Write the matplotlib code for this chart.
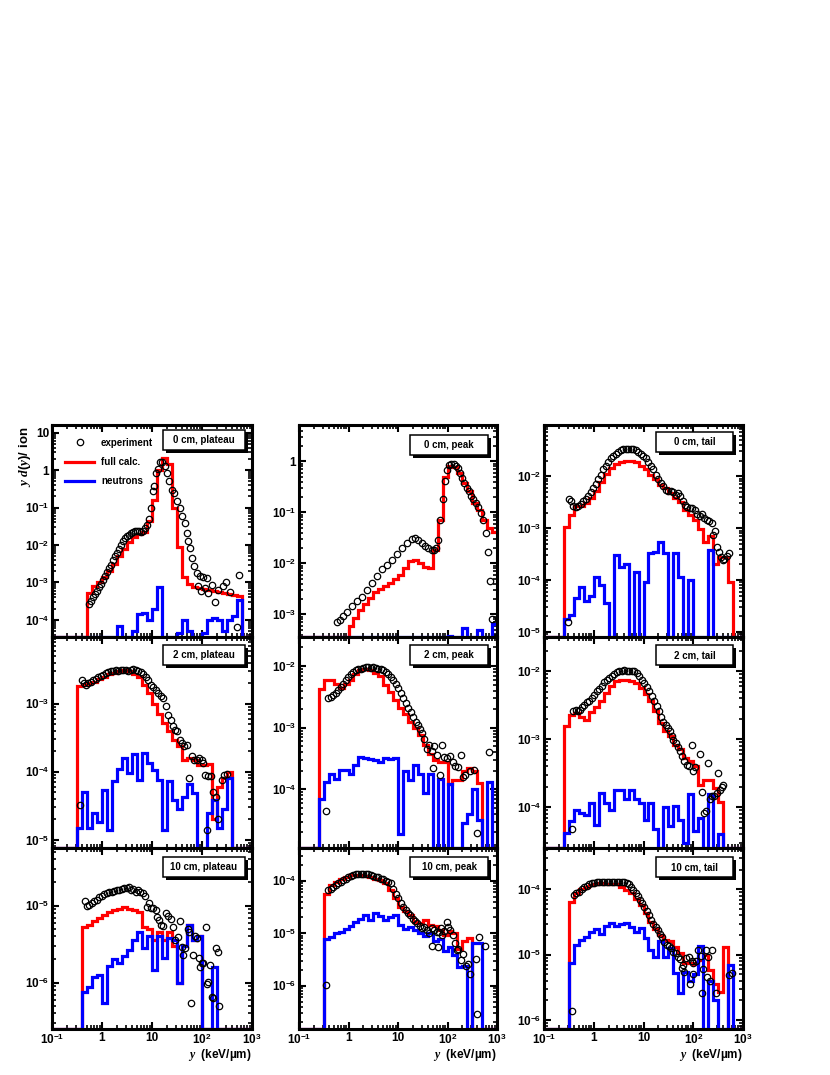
import numpy as np
import matplotlib
matplotlib.use("Agg")
import matplotlib.pyplot as plt
from matplotlib.ticker import LogLocator, FuncFormatter, NullFormatter
from matplotlib.lines import Line2D
from matplotlib.patches import Rectangle

plt.rcParams['font.family'] = ['Liberation Sans', 'DejaVu Sans']
plt.rcParams['font.weight'] = 'bold'
plt.rcParams['mathtext.fontset'] = 'custom'
plt.rcParams['mathtext.rm'] = 'Liberation Sans:bold'
plt.rcParams['mathtext.it'] = 'Liberation Serif:italic'
plt.rcParams['mathtext.bf'] = 'Liberation Sans:bold'
plt.rcParams['mathtext.sf'] = 'Liberation Sans:bold'

# ---------------- data ----------------
# histogram bins: 10 per decade from 0.1 to 1000 keV/um
BIN_EDGES = np.logspace(-1, 3, 41)

PANEL_LABELS = ["0 cm, plateau", "0 cm, peak", "0 cm, tail",
                "2 cm, plateau", "2 cm, peak", "2 cm, tail",
                "10 cm, plateau", "10 cm, peak", "10 cm, tail"]

Y_LIMITS = [(3.5e-5, 16), (3.6e-4, 5.2), (8e-6, 0.097),
            (7.6e-6, 9.5e-3), (1.12e-5, 0.0296), (2.5e-5, 0.032),
            (2.5e-7, 5.6e-5), (1.5e-7, 4.2e-4), (7.3e-7, 4.3e-4)]

# full calculation (red), first non-empty bin index + bin values
red_start = [7, 9, 4, 5, 4, 4, 6, 5, 5]
red_0cm_plateau = [5.1e-4, 8e-4, 1.0e-3, 1.4e-3, 2.0e-3, 3.2e-3, 5e-3, 8e-3, 1.2e-2, 1.6e-2,
                   2.0e-2, 2.2e-2, 4.5e-2, 0.16, 1.0, 2.1, 1.5, 0.1, 9e-3, 1.4e-3,
                   9e-4, 7.5e-4, 7e-4, 6.5e-4, 6.3e-4, 6e-4, 5.5e-4, 5.2e-4, 5e-4, 4.6e-4, 4.3e-4]
red_0cm_peak = [3.5e-4, 6e-4, 8.5e-4, 1.2e-3, 1.6e-3, 2.1e-3, 2.7e-3, 3.2e-3, 3.6e-3, 4.2e-3,
                5e-3, 6e-3, 8e-3, 1.1e-2, 1.15e-2, 1.0e-2, 8.5e-3, 8e-3, 1.8e-2, 7e-2,
                0.5, 0.8, 0.78, 0.59, 0.38, 0.26, 0.15, 0.11, 0.072, 0.05, 0.042]
red_0cm_tail = [1.07e-3, 1.8e-3, 2.7e-3, 2.7e-3, 3.0e-3, 3.8e-3, 5.1e-3, 7.6e-3, 1.1e-2, 1.45e-2,
                1.7e-2, 1.9e-2, 2.0e-2, 2.0e-2, 1.9e-2, 1.6e-2, 1.4e-2, 1.07e-2, 8.7e-3, 6.9e-3,
                5.9e-3, 4.8e-3, 3.8e-3, 3.2e-3, 2.25e-3, 1.8e-3, 1.45e-3, 9.5e-4, 5.5e-4, 7e-4,
                2e-4, 2.8e-4, 2.8e-4, 9e-5]
red_2cm_plateau = [1.8e-3, 1.9e-3, 2.0e-3, 2.1e-3, 2.3e-3, 2.5e-3, 2.7e-3, 2.85e-3, 3.0e-3, 3.1e-3,
                   3.0e-3, 2.7e-3, 2.5e-3, 1.9e-3, 1.45e-3, 1.0e-3, 7e-4, 5.2e-4, 3.9e-4, 2.95e-4,
                   2.35e-4, 1.5e-4, 1.6e-4, 1.5e-4, 1.26e-4, 1.26e-4, 1.3e-4, 2e-5, 6e-5, 8e-5, 1.0e-4]
red_2cm_peak = [4.3e-3, 5.9e-3, 5.9e-3, 5.2e-3, 4.4e-3, 5.2e-3, 6.0e-3, 7.5e-3, 8.7e-3, 9.0e-3,
                8.7e-3, 7.7e-3, 6.9e-3, 4.9e-3, 3.8e-3, 2.8e-3, 2.05e-3, 1.7e-3, 1.26e-3, 9.8e-4,
                7.6e-4, 5.2e-4, 3.8e-4, 3.0e-4, 2.8e-4, 2.8e-4, 1.2e-4, 1.4e-4, 1.4e-4, 2.0e-4,
                2.2e-4, 2.0e-4, 1.26e-4]
red_2cm_tail = [1.55e-3, 2.3e-3, 2.45e-3, 2.1e-3, 1.9e-3, 2.5e-3, 3.0e-3, 3.7e-3, 4.8e-3, 6.0e-3,
                7.1e-3, 7.5e-3, 7.5e-3, 7.1e-3, 6.8e-3, 5.6e-3, 4.6e-3, 3.6e-3, 2.6e-3, 1.75e-3,
                1.3e-3, 1.1e-3, 8.3e-4, 7.1e-4, 5.2e-4, 4.7e-4, 4.0e-4, 2.1e-4, 2.5e-4, 2.5e-4,
                1.9e-4, 1.2e-4]
red_10cm_plateau = [5.3e-6, 5.6e-6, 6.3e-6, 6.9e-6, 7.6e-6, 8.3e-6, 8.7e-6, 9.1e-6, 9.7e-6, 9.1e-6,
                    8.7e-6, 8.3e-6, 5.3e-6, 5.0e-6, 3.6e-6, 4.6e-6, 3.6e-6, 4.6e-6, 3.0e-6,
                    1.0e-6, 3.0e-6, 5.6e-6, 3.6e-6, 4.0e-6]
red_10cm_peak = [5.7e-5, 8.3e-5, 9.5e-5, 1.1e-4, 1.2e-4, 1.28e-4, 1.3e-4, 1.28e-4, 1.25e-4, 1.2e-4,
                 1.1e-4, 1.02e-4, 8.9e-5, 6.6e-5, 4.6e-5, 3.2e-5, 2.6e-5, 2.2e-5, 1.66e-5, 1.55e-5,
                 1.8e-5, 1.45e-5, 1.4e-5, 1.15e-5, 9.3e-6, 1.1e-5, 1.0e-5, 5e-6, 7e-6, 8e-6]
red_10cm_tail = [6.5e-5, 8.7e-5, 1.0e-4, 1.1e-4, 1.15e-4, 1.23e-4, 1.26e-4, 1.23e-4, 1.23e-4, 1.2e-4,
                 1.1e-4, 9.8e-5, 8.9e-5, 7.2e-5, 5.8e-5, 4.3e-5, 3.2e-5, 2.5e-5, 2.0e-5, 1.67e-5,
                 1.6e-5, 1.3e-5, 1.05e-5, 7.4e-6, 7.4e-6, 7.1e-6, 8.3e-6, 1.0e-5, 5.9e-6, 3.6e-6,
                 2.7e-6, 1.3e-5]

# neutrons (blue), first bin index + bin values (0 = empty bin)
blue_start = [13, 30, 4, 5, 4, 4, 6, 5, 5]
blue_0cm_plateau = [7e-5, 0, 0, 5e-5, 1.4e-4, 1.5e-4, 1.0e-4, 2.0e-4, 7.5e-4, 0,
                    0, 0, 4.5e-5, 1.0e-4, 5e-5, 0, 0, 4.5e-5, 1.0e-4, 1.1e-4,
                    1.0e-4, 5e-5, 1.0e-4, 1.3e-4, 3.5e-4]
blue_0cm_peak = [3.8e-4, 0, 0, 5.5e-4, 0, 0, 5e-4, 0, 0, 6.5e-4]
blue_0cm_tail = [1.8e-5, 2.1e-5, 4.5e-5, 7.4e-5, 4.0e-5, 5.0e-5, 1.15e-4, 8e-5, 3.6e-5, 0,
                 3.0e-4, 1.8e-4, 2.0e-4, 0, 1.4e-4, 0, 9e-5, 3.3e-4, 3.5e-4, 5.3e-4,
                 3.3e-4, 0, 3.3e-4, 1.15e-4, 0, 1.0e-4, 0, 0, 0, 3.8e-4]
blue_2cm_plateau = [1.5e-5, 5.1e-5, 1.5e-5, 2.5e-5, 1.8e-5, 5.4e-5, 1.4e-5, 7.2e-5, 1.1e-4, 1.6e-4,
                    9.6e-5, 1.8e-4, 7.6e-5, 1.9e-4, 1.35e-4, 1.07e-4, 7.6e-5, 1.4e-5, 7.2e-5, 3.9e-5,
                    2.8e-5, 4.3e-5, 6.5e-5, 4.9e-5, 0, 0, 2.5e-5, 3.9e-5, 1.5e-5, 2.8e-5, 8e-5]
blue_2cm_peak = [7e-5, 1.3e-4, 1.8e-4, 1.45e-4, 2.05e-4, 2.1e-4, 1.8e-4, 2.5e-4, 3.4e-4, 3.2e-4,
                 3.1e-4, 3.0e-4, 2.8e-4, 3.2e-4, 3.1e-4, 3.2e-4, 1.9e-5, 2.0e-4, 1.4e-4, 2.5e-4,
                 1.8e-4, 8.7e-5, 1.8e-4, 0, 1.5e-4, 0, 1.2e-4, 0, 0, 2.8e-5,
                 4e-5, 1.0e-4, 3.2e-5, 0, 1.3e-4]
blue_2cm_tail = [4.2e-5, 6.2e-5, 9.1e-5, 8.3e-5, 7.7e-5, 1.15e-4, 5.5e-5, 1.6e-4, 1.15e-4, 9e-5,
                 1.8e-4, 1.8e-4, 1.3e-4, 1.8e-4, 1.3e-4, 1.15e-4, 6.5e-5, 1.15e-4, 4.8e-5, 0,
                 1.0e-4, 5.2e-5, 1.05e-4, 6.5e-5, 3e-5, 1.55e-4, 4.5e-5, 7e-5, 0, 1.55e-4,
                 0, 4e-5]
blue_10cm_plateau = [7.6e-7, 8.9e-7, 1.2e-6, 1.25e-6, 5.4e-7, 1.65e-6, 2.0e-6, 1.8e-6, 2.2e-6, 2.65e-6,
                     3.6e-6, 4.6e-6, 2.8e-6, 4.0e-6, 1.45e-6, 4.0e-6, 2.1e-6, 3.8e-6, 3.6e-6, 1.0e-6,
                     3.0e-6, 5.6e-6, 3.6e-6, 4.0e-6, 0, 0, 1.6e-6]
blue_10cm_peak = [7.9e-6, 8.3e-6, 1.0e-5, 1.05e-5, 1.23e-5, 1.4e-5, 1.65e-5, 1.9e-5, 2.2e-5, 1.8e-5,
                  2.4e-5, 2.1e-5, 1.8e-5, 2.0e-5, 2.2e-5, 1.45e-5, 1.23e-5, 1.3e-5, 1.15e-5, 1.0e-5,
                  8.9e-6, 1.0e-5, 7.2e-6, 7.7e-6, 4.5e-6, 5.5e-6, 3.8e-6, 2.3e-6, 2.4e-6, 0,
                  6.4e-6, 6.4e-6]
blue_10cm_tail = [7.4e-6, 1.4e-5, 1.67e-5, 1.9e-5, 2.25e-5, 2.5e-5, 2.1e-5, 2.8e-5, 3.1e-5, 2.8e-5,
                  2.95e-5, 3.1e-5, 2.7e-5, 2.2e-5, 2.6e-5, 1.8e-5, 1.17e-5, 9.3e-6, 1.6e-5, 9.3e-6,
                  1.25e-5, 5.2e-6, 2.6e-6, 5.5e-6, 4.0e-6, 5.0e-6, 1.35e-5, 0, 4.0e-6, 2.0e-6,
                  0, 0, 6.9e-6]

# experiment (open circles)
exp_x_0cm_plateau = [0.56, 0.61, 0.67, 0.74, 0.81, 0.885, 0.97, 1.06, 1.17, 1.28,
                     1.40, 1.54, 1.69, 1.85, 2.03, 2.22, 2.44, 2.67, 2.93, 3.21,
                     3.52, 3.86, 4.24, 4.64, 5.09, 5.58, 6.12, 6.71, 7.36, 8.07,
                     8.7, 9.4, 10.3, 11.1, 12.0, 13.0, 14.5, 16.1, 18.2, 20.3,
                     22.2, 24.7, 27.5, 31.1, 36.3, 39.2, 45.7, 49.3, 53.3, 57.5,
                     62.1, 70.3, 78.2, 91.2, 106, 124, 84.5, 95.5, 115, 134,
                     156, 182, 212, 259, 302, 363, 509, 558]
exp_y_0cm_plateau = [2.7e-4, 3.2e-4, 4.0e-4, 4.8e-4, 5.9e-4, 7.4e-4, 9.1e-4, 1.15e-3, 1.5e-3, 1.9e-3,
                     2.4e-3, 3.0e-3, 4.0e-3, 5.0e-3, 6.3e-3, 7.9e-3, 1.0e-2, 1.26e-2, 1.5e-2, 1.7e-2,
                     1.9e-2, 2.1e-2, 2.2e-2, 2.3e-2, 2.35e-2, 2.3e-2, 2.2e-2, 2.3e-2, 2.8e-2, 3.5e-2,
                     4.8e-2, 0.1, 0.28, 0.37, 0.85, 1.1, 1.6, 1.6, 1.26, 0.85,
                     0.51, 0.30, 0.25, 0.15, 0.1, 0.059, 0.039, 0.021, 0.0126, 8.3e-3,
                     4.5e-3, 2.7e-3, 1.8e-3, 1.45e-3, 1.4e-3, 1.3e-3, 8.2e-4, 5.8e-4, 7e-4, 5.1e-4,
                     8.7e-4, 3.1e-4, 6.3e-4, 7.9e-4, 1e-3, 5.4e-4, 6.6e-5, 1.6e-3]
exp_x_0cm_peak = [0.58, 0.67, 0.79, 0.92, 1.16, 1.46, 1.85, 2.33, 2.94, 3.71,
                  4.68, 5.9, 7.45, 9.4, 11.9, 15.0, 18.9, 22.0, 25.8, 30.1,
                  35.1, 41.0, 47.9, 53.3, 58.6, 65.3, 71.6, 79.8, 87.7, 96.2,
                  107, 119, 133, 149, 166, 182, 200, 219, 244, 268,
                  299, 333, 371, 420, 475, 530, 590, 658, 711, 793]
exp_y_0cm_peak = [7.2e-4, 7.9e-4, 9.3e-4, 1.1e-3, 1.45e-3, 1.8e-3, 2.2e-3, 3.0e-3, 4.1e-3, 5.6e-3,
                  7.6e-3, 9.3e-3, 1.17e-2, 1.5e-2, 2.0e-2, 2.5e-2, 3.0e-2, 3.2e-2, 2.9e-2, 2.5e-2,
                  2.2e-2, 2.0e-2, 1.86e-2, 1.8e-2, 2.0e-2, 2.9e-2, 7.2e-2, 0.18, 0.41, 0.69,
                  0.85, 0.89, 0.89, 0.83, 0.74, 0.59, 0.47, 0.38, 0.30, 0.26,
                  0.21, 0.18, 0.15, 0.126, 0.098, 0.072, 0.039, 0.017, 4.5e-3, 8e-4]
exp_x_0cm_tail = [0.30, 0.32, 0.35, 0.39, 0.43, 0.49, 0.55, 0.62, 0.69, 0.78,
                  0.87, 0.98, 1.09, 1.24, 1.38, 1.56, 1.76, 1.96, 2.22, 2.48,
                  2.80, 3.12, 3.53, 3.94, 4.45, 4.96, 5.61, 6.25, 7.07, 7.87,
                  8.91, 9.93, 11.2, 12.5, 14.2, 15.8, 17.8, 19.9, 22.5, 25.1,
                  28.3, 31.6, 35.7, 39.8, 45.0, 50.1, 54.2, 61.3, 68.3, 76.0,
                  86.1, 95.9, 108, 121, 137, 152, 167, 186, 211, 234,
                  253, 274, 296, 329, 356, 390, 421, 470, 524]
exp_y_0cm_tail = [1.55e-5, 3.6e-3, 3.4e-3, 2.7e-3, 2.55e-3, 2.7e-3, 2.95e-3, 3.3e-3, 3.6e-3, 4.2e-3,
                  4.9e-3, 5.9e-3, 7.1e-3, 8.7e-3, 1.07e-2, 1.35e-2, 1.6e-2, 1.86e-2, 2.2e-2, 2.45e-2,
                  2.7e-2, 2.95e-2, 3.15e-2, 3.3e-2, 3.4e-2, 3.4e-2, 3.4e-2, 3.3e-2, 3.15e-2, 2.9e-2,
                  2.7e-2, 2.45e-2, 2.2e-2, 1.86e-2, 1.56e-2, 1.35e-2, 1.07e-2, 8.9e-3, 7.4e-3, 6.4e-3,
                  5.5e-3, 5.1e-3, 5.1e-3, 4.9e-3, 4.4e-3, 4.8e-3, 4.2e-3, 3.3e-3, 2.8e-3, 2.55e-3,
                  2.4e-3, 2.4e-3, 2.25e-3, 1.9e-3, 1.7e-3, 1.9e-3, 1.55e-3, 1.45e-3, 1.4e-3, 1.25e-3,
                  7.4e-4, 8.7e-4, 4.4e-4, 3.4e-4, 2.8e-4, 2.45e-4, 2.5e-4, 2.9e-4, 3.3e-4]
exp_x_2cm_plateau = [0.363, 0.39, 0.437, 0.479, 0.533, 0.593, 0.671, 0.747, 0.845, 0.94,
                     1.06, 1.2, 1.34, 1.51, 1.69, 1.91, 2.12, 2.4, 2.67, 3.02,
                     3.36, 3.8, 4.24, 4.79, 5.33, 6.03, 6.71, 7.59, 8.45, 9.55,
                     10.6, 12.0, 13.4, 15.1, 16.9, 18.8, 21.2, 23.6, 25.9, 28.8,
                     32.1, 36.3, 39.2, 44.3, 49.3, 55.8, 62.1, 70.3, 78.2, 88.4,
                     98.5, 106, 115, 124, 134, 149, 169, 188, 212, 247,
                     275, 311]
exp_y_2cm_plateau = [3.2e-5, 2.25e-3, 2.0e-3, 1.9e-3, 2.0e-3, 2.1e-3, 2.25e-3, 2.33e-3, 2.46e-3, 2.58e-3,
                     2.67e-3, 2.8e-3, 2.9e-3, 3.0e-3, 3.05e-3, 3.1e-3, 3.05e-3, 3.1e-3, 3.16e-3, 3.1e-3,
                     3.0e-3, 3.16e-3, 3.2e-3, 3.1e-3, 3.0e-3, 2.9e-3, 2.76e-3, 2.46e-3, 2.25e-3, 1.9e-3,
                     1.76e-3, 1.6e-3, 1.43e-3, 1.28e-3, 1.2e-3, 9.3e-4, 6.9e-4, 5.8e-4, 4.7e-4, 4.1e-4,
                     3.9e-4, 2.95e-4, 2.6e-4, 2.35e-4, 2.5e-4, 8.1e-5, 1.7e-4, 1.5e-4, 1.5e-4, 1.6e-4,
                     1.5e-4, 1.34e-4, 9.1e-5, 1.4e-5, 8.8e-5, 8.6e-5, 5e-5, 4.3e-5, 2e-5, 7.6e-5,
                     9.1e-5, 9.3e-5]
exp_x_2cm_peak = [0.35, 0.39, 0.44, 0.49, 0.55, 0.62, 0.70, 0.79, 0.89, 0.99,
                  1.12, 1.25, 1.42, 1.58, 1.79, 2.0, 2.26, 2.52, 2.85, 3.18,
                  3.6, 4.0, 4.54, 5.06, 5.72, 6.38, 7.22, 8.05, 9.12, 10.2,
                  11.5, 12.8, 14.5, 16.2, 18.0, 20.4, 22.8, 25.0, 27.8, 31.0,
                  34.0, 37.9, 42.9, 47.9, 51.7, 53.4, 60.4, 70.5, 76.2, 84.9,
                  96.2, 112, 127, 144, 165, 185, 203, 226, 285, 343,
                  388, 700]
exp_y_2cm_peak = [4.5e-5, 3.0e-3, 3.1e-3, 3.4e-3, 3.7e-3, 4.1e-3, 4.6e-3, 5.2e-3, 5.9e-3, 6.7e-3,
                  7.4e-3, 8.1e-3, 8.6e-3, 8.8e-3, 9.1e-3, 9.4e-3, 9.5e-3, 9.5e-3, 9.4e-3, 9.8e-3,
                  9.4e-3, 9.1e-3, 8.8e-3, 8.6e-3, 8.1e-3, 7.4e-3, 6.7e-3, 5.9e-3, 5.1e-3, 4.35e-3,
                  3.6e-3, 3.0e-3, 2.5e-3, 2.1e-3, 1.8e-3, 1.47e-3, 1.25e-3, 1.1e-3, 9.4e-4, 8.1e-4,
                  6.5e-4, 4.6e-4, 5.2e-4, 4.2e-4, 2.2e-4, 5.0e-4, 3.6e-4, 1.7e-4, 5.2e-4, 3.4e-4,
                  3.2e-4, 3.5e-4, 2.8e-4, 2.4e-4, 2.3e-4, 3.6e-4, 1.6e-4, 1.7e-4, 1.95e-4, 2.1e-4,
                  1.95e-5, 4.1e-4]
exp_x_2cm_tail = [0.36, 0.39, 0.43, 0.475, 0.53, 0.59, 0.65, 0.72, 0.80, 0.91,
                  1.01, 1.15, 1.28, 1.44, 1.61, 1.82, 2.03, 2.29, 2.55, 2.89,
                  3.22, 3.64, 4.06, 4.59, 5.12, 5.78, 6.44, 7.29, 8.13, 9.19,
                  10.2, 11.6, 12.9, 14.6, 16.3, 18.4, 20.5, 22.5, 25.1, 27.9,
                  30.6, 34.1, 36.8, 39.8, 44.4, 48.6, 54.2, 60.4, 66.2, 73.8,
                  82.2, 92.9, 100, 108, 137, 152, 165, 178, 195, 217,
                  242, 266, 296, 319, 345, 372, 403]
exp_y_2cm_tail = [4.8e-5, 2.57e-3, 2.72e-3, 2.57e-3, 2.72e-3, 2.97e-3, 3.2e-3, 3.5e-3, 3.7e-3, 4.05e-3,
                  4.5e-3, 5.1e-3, 5.5e-3, 6.1e-3, 6.9e-3, 7.5e-3, 8.0e-3, 8.6e-3, 9.2e-3, 9.7e-3,
                  1.0e-2, 1.02e-2, 1.03e-2, 1.02e-2, 1.0e-2, 1.02e-2, 1.0e-2, 9.4e-3, 8.4e-3, 7.5e-3,
                  6.7e-3, 5.9e-3, 5.1e-3, 4.3e-3, 3.6e-3, 3.05e-3, 2.57e-3, 2.1e-3, 1.8e-3, 1.6e-3,
                  1.46e-3, 1.3e-3, 1.1e-3, 9.8e-4, 8.8e-4, 7.8e-4, 6.6e-4, 5.6e-4, 4.7e-4, 4.2e-4,
                  4.0e-4, 8.3e-4, 3.4e-4, 3.9e-4, 6.1e-4, 1.66e-4, 8.3e-5, 8.7e-5, 4.4e-4, 1.3e-4,
                  1.44e-4, 1.44e-4, 1.6e-4, 3.2e-4, 1.8e-4, 2.0e-4, 2.1e-4]
exp_x_10cm_plateau = [0.457, 0.51, 0.56, 0.62, 0.69, 0.78, 0.87, 0.98, 1.10, 1.24,
                      1.38, 1.56, 1.74, 1.96, 2.19, 2.47, 2.75, 3.11, 3.47, 3.8,
                      4.24, 4.71, 5.17, 5.75, 6.5, 7.24, 7.82, 8.71, 9.55, 10.6,
                      11.8, 12.8, 14.0, 15.1, 16.9, 18.8, 21.2, 23.6, 25.9, 28.8,
                      32.6, 36.3, 39.2, 42.4, 45.7, 51.7, 55.8, 59.3, 65.0, 72.4,
                      80.7, 87.1, 91.2, 98.5, 106, 118, 128, 134, 145, 156,
                      169, 191, 212, 222]
exp_y_10cm_plateau = [1.15e-5, 1.0e-5, 1.02e-5, 1.07e-5, 1.15e-5, 1.2e-5, 1.28e-5, 1.33e-5, 1.4e-5, 1.45e-5,
                      1.5e-5, 1.52e-5, 1.57e-5, 1.6e-5, 1.6e-5, 1.65e-5, 1.68e-5, 1.68e-5, 1.76e-5, 1.6e-5,
                      1.63e-5, 1.52e-5, 1.6e-5, 1.52e-5, 1.45e-5, 1.33e-5, 9.7e-6, 1.09e-5, 9.2e-6, 9.2e-6,
                      8.8e-6, 7.2e-6, 6.5e-6, 5.6e-6, 5.4e-6, 8.1e-6, 7.3e-6, 6.8e-6, 5.3e-6, 3.6e-6,
                      3.9e-6, 6.4e-6, 2.9e-6, 2.3e-6, 2.8e-6, 4.9e-6, 4.6e-6, 5.4e-7, 2.3e-6, 4.0e-6,
                      3.8e-6, 2.1e-6, 1.6e-6, 1.8e-6, 1.8e-6, 5.2e-6, 9.6e-7, 1.03e-6, 1.7e-6, 6.6e-7,
                      6.3e-7, 2.8e-6, 2.5e-6, 5.0e-7]
exp_x_10cm_peak = [0.35, 0.39, 0.44, 0.49, 0.55, 0.62, 0.70, 0.79, 0.88, 0.99,
                   1.11, 1.25, 1.40, 1.58, 1.76, 2.0, 2.22, 2.52, 2.81, 3.18,
                   3.54, 4.0, 4.47, 5.06, 5.64, 6.38, 7.11, 8.05, 9.12, 10.2,
                   11.3, 12.8, 14.3, 15.7, 17.5, 19.8, 22.0, 24.6, 27.8, 31.0,
                   34.0, 37.9, 42.9, 47.9, 49.4, 53.4, 60.4, 63.2, 67.3, 72.7,
                   78.6, 85.0, 96.2, 104, 112, 127, 142, 153, 166, 185,
                   209, 237, 264, 285, 371, 401, 440, 572]
exp_y_10cm_peak = [1.02e-6, 6.6e-5, 7.1e-5, 7.7e-5, 8.3e-5, 8.9e-5, 9.6e-5, 1.03e-4, 1.1e-4, 1.19e-4,
                   1.23e-4, 1.28e-4, 1.32e-4, 1.32e-4, 1.32e-4, 1.32e-4, 1.32e-4, 1.32e-4, 1.28e-4, 1.24e-4,
                   1.19e-4, 1.16e-4, 1.1e-4, 1.06e-4, 1.0e-4, 9.6e-5, 8.9e-5, 7.1e-5, 5.7e-5, 4.6e-5,
                   3.7e-5, 3.2e-5, 2.76e-5, 2.46e-5, 2.2e-5, 1.9e-5, 1.73e-5, 1.54e-5, 1.37e-5, 1.24e-5,
                   1.29e-5, 1.15e-5, 1.03e-5, 1.24e-5, 5.7e-6, 1.15e-5, 1.07e-5, 5.4e-6, 1.07e-5, 1.24e-5,
                   9.3e-6, 1.11e-5, 1.65e-5, 1.32e-5, 1.15e-5, 9.3e-6, 6.4e-6, 4.8e-6, 5.1e-6, 3.1e-6,
                   4.0e-6, 2.4e-6, 2.6e-6, 1.7e-6, 3.3e-6, 2.9e-7, 8.6e-6, 5.7e-6]
exp_x_10cm_tail = [0.36, 0.41, 0.45, 0.51, 0.57, 0.65, 0.72, 0.81, 0.91, 1.01,
                   1.15, 1.28, 1.44, 1.61, 1.82, 2.03, 2.29, 2.55, 2.89, 3.22,
                   3.64, 4.06, 4.59, 5.12, 5.61, 6.25, 6.97, 7.64, 8.51, 9.48,
                   10.4, 11.6, 12.9, 14.2, 15.8, 17.6, 19.3, 21.5, 23.9, 26.2,
                   29.2, 32.6, 35.7, 39.8, 44.4, 48.6, 54.2, 63.2, 71.4, 82.2,
                   92.9, 100, 114, 126, 141, 152, 178, 201, 234, 58.5,
                   65.2, 86.1, 100, 160, 186, 217, 282, 531, 592]
exp_y_10cm_tail = [1.38e-6, 8.2e-5, 8.7e-5, 9.2e-5, 1.0e-4, 1.07e-4, 1.12e-4, 1.19e-4, 1.24e-4, 1.26e-4,
                   1.3e-4, 1.31e-4, 1.28e-4, 1.31e-4, 1.3e-4, 1.31e-4, 1.28e-4, 1.3e-4, 1.3e-4, 1.28e-4,
                   1.31e-4, 1.28e-4, 1.26e-4, 1.2e-4, 1.1e-4, 9.8e-5, 8.7e-5, 7.9e-5, 6.9e-5, 6.1e-5,
                   5.4e-5, 4.7e-5, 4.05e-5, 3.4e-5, 3.0e-5, 2.7e-5, 2.4e-5, 2.07e-5, 1.84e-5, 1.58e-5,
                   1.41e-5, 1.36e-5, 1.25e-5, 1.11e-5, 1.05e-5, 9.3e-6, 8.5e-6, 6.9e-6, 8.8e-6, 9.1e-6,
                   8.1e-6, 7.6e-6, 8.1e-6, 1.2e-5, 9.6e-6, 2.6e-6, 1.2e-5, 9.3e-6, 1.2e-5, 6.2e-6,
                   5.5e-6, 3.6e-6, 5.0e-6, 6.0e-6, 4.6e-6, 3.9e-6, 2.6e-6, 4.9e-6, 5.2e-6]

RED = [red_0cm_plateau, red_0cm_peak, red_0cm_tail, red_2cm_plateau, red_2cm_peak,
       red_2cm_tail, red_10cm_plateau, red_10cm_peak, red_10cm_tail]
BLUE = [blue_0cm_plateau, blue_0cm_peak, blue_0cm_tail, blue_2cm_plateau, blue_2cm_peak,
        blue_2cm_tail, blue_10cm_plateau, blue_10cm_peak, blue_10cm_tail]
EXP_X = [exp_x_0cm_plateau, exp_x_0cm_peak, exp_x_0cm_tail, exp_x_2cm_plateau, exp_x_2cm_peak,
         exp_x_2cm_tail, exp_x_10cm_plateau, exp_x_10cm_peak, exp_x_10cm_tail]
EXP_Y = [exp_y_0cm_plateau, exp_y_0cm_peak, exp_y_0cm_tail, exp_y_2cm_plateau, exp_y_2cm_peak,
         exp_y_2cm_tail, exp_y_10cm_plateau, exp_y_10cm_peak, exp_y_10cm_tail]

# ---------------- layout (pixels of the 830x1075 figure) ----------------
FW, FH = 830, 1075
COL_LEFT = [52, 299, 544]
COL_W = [200, 198, 199]
ROW_TOP = [425, 637, 848]
ROW_BOT = [637, 848, 1029]
BOX_W = [82, 78, 77]
BOX_TOP = [[5, 10, 7], [8, 8, 8], [9, 9, 9]]
BOX_RIGHT = [7, 9, 10]

LW = 2.3


def fill_bins(start, vals, ymin):
    v = np.zeros(len(BIN_EDGES) - 1)
    v[start:start + len(vals)] = vals
    return np.where(v > 0, v, ymin)


def tick_fmt(v, pos):
    e = int(round(np.log10(v)))
    if e == 0:
        return '1'
    if e == 1:
        return '10'
    return r'$10^{%d}$' % e


def add_box(ax, label, wpx, hpx, bw, top, right):
    bh = 20
    sh = 3
    x1 = 1 - right / wpx
    x0 = x1 - bw / wpx
    y1 = 1 - top / hpx
    y0 = y1 - bh / hpx
    ax.add_patch(Rectangle((x0 + sh / wpx, y0 - sh / hpx), x1 - x0, y1 - y0,
                           transform=ax.transAxes, facecolor='black', edgecolor='black',
                           lw=0, zorder=6, clip_on=False))
    ax.add_patch(Rectangle((x0, y0), x1 - x0, y1 - y0, transform=ax.transAxes,
                           facecolor='white', edgecolor='black', lw=1.1, zorder=7,
                           clip_on=False))
    ax.text((x0 + x1) / 2, (y0 + y1) / 2, label, transform=ax.transAxes,
            ha='center', va='center', fontsize=7, fontweight='bold', zorder=8)


fig = plt.figure(figsize=(FW / 100, FH / 100), dpi=100)

for r in range(3):
    for c in range(3):
        k = 3 * r + c
        wpx = COL_W[c]
        hpx = ROW_BOT[r] - ROW_TOP[r]
        ax = fig.add_axes([COL_LEFT[c] / FW, 1 - ROW_BOT[r] / FH, wpx / FW, hpx / FH])
        ax.set_xscale('log')
        ax.set_yscale('log')
        ymin, ymax = Y_LIMITS[k]
        ax.set_xlim(0.1, 1000)
        ax.set_ylim(ymin, ymax)

        ax.stairs(fill_bins(red_start[k], RED[k], ymin), BIN_EDGES, baseline=None,
                  color='#ff0000', lw=LW, zorder=2)
        ax.stairs(fill_bins(blue_start[k], BLUE[k], ymin), BIN_EDGES, baseline=None,
                  color='#0000ff', lw=LW, zorder=3)
        ax.plot(EXP_X[k], EXP_Y[k], ls='none', marker='o', mfc='none', mec='black',
                ms=4.6, mew=0.9, zorder=4)

        for axis in (ax.xaxis, ax.yaxis):
            axis.set_major_locator(LogLocator(base=10, numticks=30))
            axis.set_minor_locator(LogLocator(base=10, subs=np.arange(2, 10), numticks=30))
            axis.set_minor_formatter(NullFormatter())
            axis.set_major_formatter(FuncFormatter(tick_fmt))
        ax.tick_params(which='both', direction='in', top=True, right=True)
        ax.tick_params(which='major', length=5, width=1.5, labelsize=8.5)
        ax.tick_params(which='minor', length=3, width=1.2)
        ax.tick_params(axis='y', pad=2)
        ax.tick_params(axis='x', pad=2.5)
        if r < 2:
            ax.tick_params(labelbottom=False)
        for sp in ax.spines.values():
            sp.set_linewidth(2.2)
            sp.set_zorder(5)

        add_box(ax, PANEL_LABELS[k], wpx, hpx, BOX_W[c], BOX_TOP[r][c], BOX_RIGHT[c])

        if r == 2:
            ax.text(1.0, -26 / hpx, r'$\mathit{y}$  (keV/µm)', transform=ax.transAxes,
                    ha='right', va='center', fontsize=8.5, fontweight='bold')

        if k == 0:
            handles = [Line2D([], [], ls='none', marker='o', mfc='none', mec='black',
                              ms=4.6, mew=0.9),
                       Line2D([], [], color='#ff0000', lw=LW),
                       Line2D([], [], color='#0000ff', lw=LW)]
            ax.legend(handles, ['experiment', 'full calc.', 'neutrons'], loc='upper left',
                      bbox_to_anchor=(0.065, 0.94), frameon=False,
                      prop={'weight': 'bold', 'size': 7}, handlelength=3.0,
                      handletextpad=0.7, labelspacing=0.95, borderpad=0, borderaxespad=0)

fig.text(25 / FW, 1 - 427 / FH, r'$\mathit{y\ d(y)}$/ ion', rotation=90,
         ha='center', va='top', fontsize=9.5, fontweight='bold')

fig.savefig('out.png', dpi=100)
